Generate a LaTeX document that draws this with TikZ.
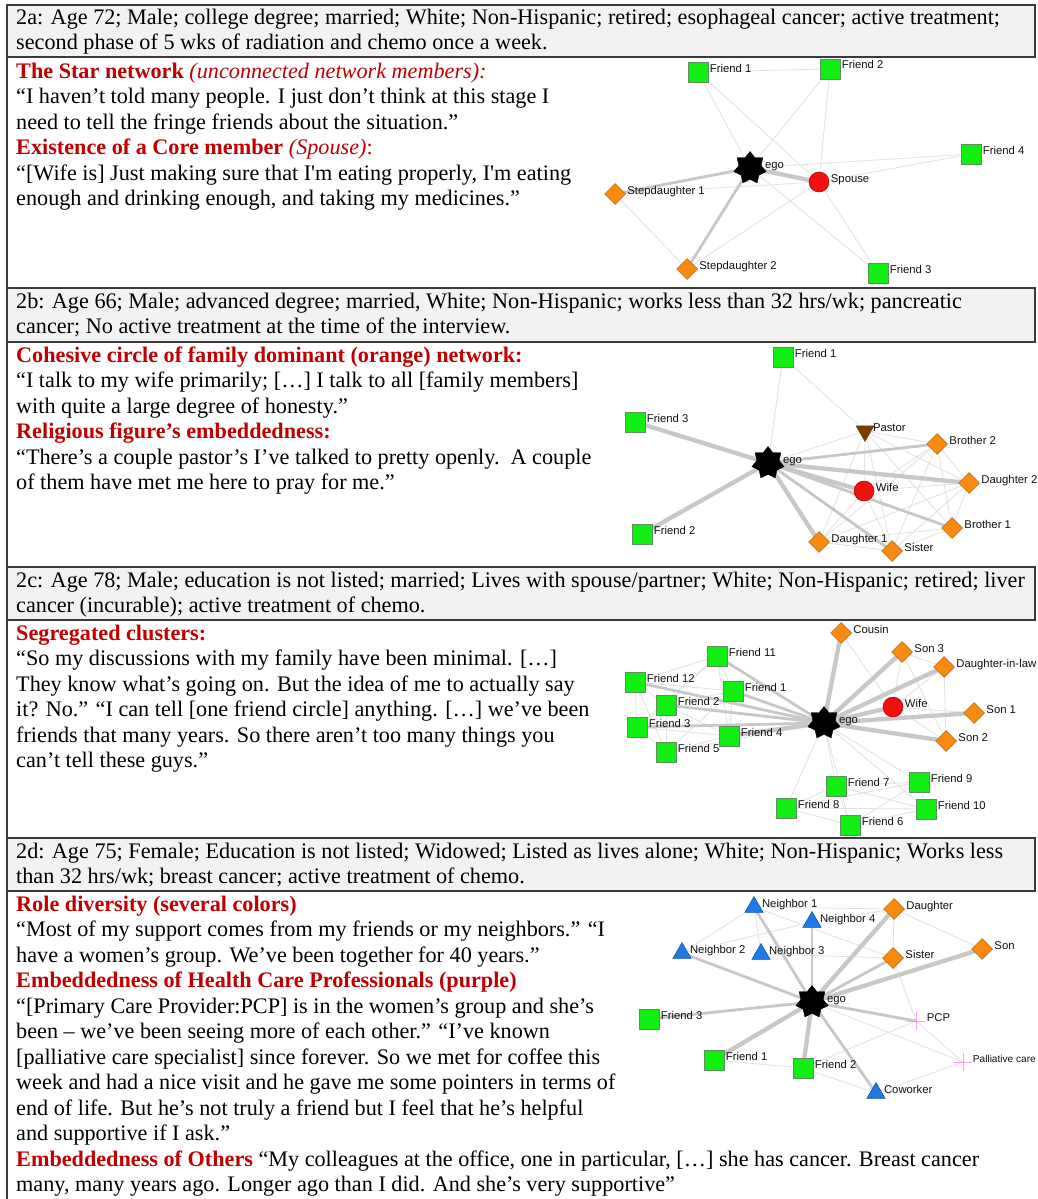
\documentclass[tikz,border=0pt]{standalone}
\usepackage{fontspec}
\setmainfont{Liberation Serif}[Ligatures=TeXOff]
\newfontfamily\labfamily{Liberation Sans}
\usetikzlibrary{shapes.geometric,backgrounds}
\pgfdeclarelayer{edgelayer}
\pgfsetlayers{background,edgelayer,main}
\definecolor{hred}{HTML}{C00000}
\definecolor{hdrgray}{HTML}{F2F2F2}
\definecolor{rulecol}{HTML}{3A3A3A}
\definecolor{grn}{HTML}{11EE11}
\definecolor{grnb}{HTML}{5E8F5E}
\definecolor{org}{HTML}{FA8A0F}
\definecolor{orgb}{HTML}{A8600E}
\definecolor{redn}{HTML}{F01010}
\definecolor{rednb}{HTML}{B00000}
\definecolor{blu}{HTML}{1E78E6}
\definecolor{blub}{HTML}{1050A0}
\definecolor{brn}{HTML}{7A3A00}
\definecolor{pnk}{HTML}{F5A0F0}
\definecolor{ethick}{HTML}{C8C8C8}
\definecolor{ethin}{HTML}{E2E2E2}
\definecolor{labcol}{HTML}{111111}
\newcommand\mainfs{\fontsize{22.2}{25.5}\selectfont}
\newcommand\labfs{\labfamily\fontsize{11.3}{13}\selectfont}
\newcommand\smlabfs{\labfamily\fontsize{10.1}{12}\selectfont}
\newcommand\redbf[1]{{\color{hred}\bfseries #1}}
\newcommand\redit[1]{{\color{hred}\itshape #1}}
\begin{document}
\begin{tikzpicture}[x=1pt,y=-1pt,label distance=1.5pt,
  hdr/.style={fill=hdrgray,draw=rulecol,line width=1.3pt},
  txt/.style={anchor=base west,inner sep=0,font=\mainfs},
  lab/.style={anchor=base west,inner sep=0,font=\labfs,text=labcol},
  L/.style={label={[lab]0:#1}},
  sq/.style={rectangle,draw=grnb,fill=grn,minimum size=20pt,inner sep=0,line width=0.5pt},
  dia/.style={diamond,draw=orgb,fill=org,minimum size=21pt,inner sep=0,line width=0.5pt},
  circ/.style={circle,draw=rednb,fill=redn,minimum size=20pt,inner sep=0,line width=0.5pt},
  egostar/.style={star,star points=7,star point ratio=1.45,fill=black,draw=black,minimum size=33pt,inner sep=0},
  tri/.style={regular polygon,regular polygon sides=3,fill=blu,draw=blub,minimum size=21pt,inner sep=0,line width=0.5pt},
  pastor/.style={regular polygon,regular polygon sides=3,shape border rotate=180,fill=brn,draw=brn,minimum size=21pt,inner sep=0},
  plusn/.style={minimum size=18pt,inner sep=0,path picture={\draw[pnk,line width=0.9pt] (path picture bounding box.north)--(path picture bounding box.south) (path picture bounding box.west)--(path picture bounding box.east);}},
  e1/.style={draw=ethin,line width=0.8pt},
  e3/.style={draw=ethick,line width=2.8pt},
  e5/.style={draw=ethick,line width=4.3pt}]
\useasboundingbox (0,0) rectangle (1037,1199);
\begin{pgfonlayer}{background}
  \fill[white] (0,0) rectangle (1037,1199);
  \draw[hdr] (7,5) rectangle (1035,57);
  \draw[hdr] (7,288) rectangle (1035,342);
  \draw[hdr] (7,567) rectangle (1035,620);
  \draw[hdr] (7,838) rectangle (1035,891);
  \draw[rulecol,line width=1.3pt] (7,5) -- (7,1199);
\end{pgfonlayer}

% ---------------- texts 2a
\node[txt] (ha1) at (16,25) {2a: Age 72; Male; college degree; married; White; Non-Hispanic; retired; esophageal cancer; active treatment;};
\node[txt] (ha2) at (16,50) {second phase of 5 wks of radiation and chemo once a week.};
\node[txt] (ta1) at (16,78) {\redbf{The Star network}\redit{ (unconnected network members):}};
\node[txt] (ta2) at (16,103.5) {“I haven’t told many people. I just don’t think at this stage I};
\node[txt] (ta3) at (16,129) {need to tell the fringe friends about the situation.”};
\node[txt] (ta4) at (16,154.5) {\redbf{Existence of a Core member}\redit{ (Spouse)}{\color{hred}:}};
\node[txt] (ta5) at (16,180) {“[Wife is] Just making sure that I'm eating properly, I'm eating};
\node[txt] (ta6) at (16,205.5) {enough and drinking enough, and taking my medicines.”};
% ---------------- texts 2b
\node[txt] (hb1) at (16,308) {2b: Age 66; Male; advanced degree; married, White; Non-Hispanic; works less than 32 hrs/wk; pancreatic};
\node[txt] (hb2) at (16,333) {cancer; No active treatment at the time of the interview.};
\node[txt] (tb1) at (16,362) {\redbf{Cohesive circle of family dominant (orange) network:}};
\node[txt] (tb2) at (16,387.5) {“I talk to my wife primarily; […] I talk to all [family members]};
\node[txt] (tb3) at (16,413) {with quite a large degree of honesty.”};
\node[txt] (tb4) at (16,438.5) {\redbf{Religious figure’s embeddedness:}};
\node[txt] (tb5) at (16,464) {“There’s a couple pastor’s I’ve talked to pretty openly.\ \ A couple};
\node[txt] (tb6) at (16,489.5) {of them have met me here to pray for me.”};
% ---------------- texts 2c
\node[txt] (hc1) at (16,587) {2c: Age 78; Male; education is not listed; married; Lives with spouse/partner; White; Non-Hispanic; retired; liver};
\node[txt] (hc2) at (16,612) {cancer (incurable); active treatment of chemo.};
\node[txt] (tc1) at (16,640) {\redbf{Segregated clusters:}};
\node[txt] (tc2) at (16,665.5) {“So my discussions with my family have been minimal. […]};
\node[txt] (tc3) at (16,691) {They know what’s going on. But the idea of me to actually say};
\node[txt] (tc4) at (16,716.5) {it? No.” “I can tell [one friend circle] anything. […] we’ve been};
\node[txt] (tc5) at (16,742) {friends that many years. So there aren’t too many things you};
\node[txt] (tc6) at (16,767.5) {can’t tell these guys.”};
% ---------------- texts 2d
\node[txt] (hd1) at (16,858) {2d: Age 75; Female; Education is not listed; Widowed; Listed as lives alone; White; Non-Hispanic; Works less};
\node[txt] (hd2) at (16,883) {than 32 hrs/wk; breast cancer; active treatment of chemo.};
\node[txt] (td1) at (16,911) {\redbf{Role diversity (several colors)}};
\node[txt] (td2) at (16,936.5) {“Most of my support comes from my friends or my neighbors.” “I};
\node[txt] (td3) at (16,962) {have a women’s group. We’ve been together for 40 years.”};
\node[txt] (td4) at (16,987.5) {\redbf{Embeddedness of Health Care Professionals (purple)}};
\node[txt] (td5) at (16,1013) {“[Primary Care Provider:PCP] is in the women’s group and she’s};
\node[txt] (td6) at (16,1038.5) {been – we’ve been seeing more of each other.” “I’ve known};
\node[txt] (td7) at (16,1064) {[palliative care specialist] since forever. So we met for coffee this};
\node[txt] (td8) at (16,1089.5) {week and had a nice visit and he gave me some pointers in terms of};
\node[txt] (td9) at (16,1115) {end of life. But he’s not truly a friend but I feel that he’s helpful};
\node[txt] (td10) at (16,1140.5) {and supportive if I ask.”};
\node[txt] (td11) at (16,1166) {\redbf{Embeddedness of Others} “My colleagues at the office, one in particular, […] she has cancer. Breast cancer};
\node[txt] (td12) at (16,1191.5) {many, many years ago. Longer ago than I did. And she’s very supportive”};

% ================= network 2a
\node[egostar,L=ego] (a-ego) at (750,168) {};
\node[circ,L=Spouse] (a-sp) at (819,182) {};
\node[sq,L=Friend 1] (a-f1) at (698,72) {};
\node[sq,L=Friend 2] (a-f2) at (830,69) {};
\node[sq,L=Friend 4] (a-f4) at (971,154) {};
\node[sq,L=Friend 3] (a-f3) at (878,273) {};
\node[dia,L=Stepdaughter 1] (a-s1) at (615,194) {};
\node[dia,L=Stepdaughter 2] (a-s2) at (687,269) {};
\begin{pgfonlayer}{edgelayer}
\foreach \p/\q in {a-f1/a-f2,a-f1/a-ego,a-f1/a-sp,a-f2/a-ego,a-f2/a-sp,a-f4/a-ego,a-f4/a-sp,a-s1/a-sp,a-s1/a-s2,a-s2/a-sp,a-ego/a-f3,a-sp/a-f3}
  \draw[e1] (\p.center) -- (\q.center);
\draw[e5] (a-ego.center) -- (a-sp.center);
\draw[e3] (a-ego.center) -- (a-s1.center);
\draw[e3] (a-ego.center) -- (a-s2.center);
\end{pgfonlayer}

% ================= network 2b
\node[egostar,L=ego] (b-ego) at (768,463) {};
\node[sq,L=Friend 1] (b-f1) at (783,357) {};
\node[sq,L=Friend 3] (b-f3) at (635,422) {};
\node[sq,L=Friend 2] (b-f2) at (642,534) {};
\node[pastor,L=Pastor] (b-pas) at (865,431) {};
\node[dia,L=Brother 2] (b-b2) at (937,444) {};
\node[dia,L=Daughter 2] (b-d2) at (969,483) {};
\node[circ,L=Wife] (b-w) at (864,491) {};
\node[dia,L=Brother 1] (b-b1) at (952,528) {};
\node[dia,L=Daughter 1] (b-d1) at (819,542) {};
\node[dia,L=Sister] (b-sis) at (892,551) {};
\begin{pgfonlayer}{edgelayer}
\foreach \p/\q in {b-ego/b-f1,b-f1/b-pas,b-ego/b-pas,b-pas/b-b2,b-pas/b-d2,b-pas/b-w,b-pas/b-d1,b-pas/b-sis,b-pas/b-b1,b-w/b-b2,b-w/b-d2,b-w/b-d1,b-w/b-sis,b-b2/b-d2,b-b2/b-b1,b-b2/b-sis,b-b2/b-d1,b-d2/b-b1,b-d2/b-d1,b-d2/b-sis,b-b1/b-sis,b-b1/b-d1,b-d1/b-sis}
  \draw[e1] (\p.center) -- (\q.center);
\foreach \q in {b-f3,b-f2,b-d2,b-w,b-d1}
  \draw[e5] (b-ego.center) -- (\q.center);
\foreach \q in {b-b2,b-sis,b-b1}
  \draw[e3] (b-ego.center) -- (\q.center);
\end{pgfonlayer}

% ================= network 2c
\node[egostar,L=ego] (c-ego) at (824,723) {};
\node[dia,L=Cousin] (c-cou) at (841,633) {};
\node[dia,L=Son 3] (c-s3) at (902,652) {};
\node[dia,L=Daughter-in-law] (c-dil) at (944,667) {};
\node[circ,L=Wife] (c-w) at (893,707) {};
\node[dia,L=Son 1] (c-s1) at (974,713) {};
\node[dia,L=Son 2] (c-s2) at (946,741) {};
\node[sq,L=Friend 11] (c-f11) at (717,656) {};
\node[sq,L=Friend 12] (c-f12) at (635,682) {};
\node[sq,L=Friend 1] (c-f1) at (733,691) {};
\node[sq,L=Friend 2] (c-f2) at (666,705) {};
\node[sq,L=Friend 3] (c-f3) at (637,727) {};
\node[sq,L=Friend 4] (c-f4) at (729,736) {};
\node[sq,L=Friend 5] (c-f5) at (666,752) {};
\node[sq,L=Friend 7] (c-f7) at (836,786) {};
\node[sq,L=Friend 9] (c-f9) at (919,782) {};
\node[sq,L=Friend 8] (c-f8) at (786,808) {};
\node[sq,L=Friend 10] (c-f10) at (926,809) {};
\node[sq,L=Friend 6] (c-f6) at (850,825) {};
\begin{pgfonlayer}{edgelayer}
\foreach \p/\q in {c-f11/c-f12,c-f11/c-f2,c-f11/c-f1,c-f11/c-f4,c-f11/c-f3,c-f12/c-f2,c-f12/c-f3,c-f12/c-f5,c-f12/c-f1,c-f2/c-f3,c-f2/c-f5,c-f2/c-f4,c-f2/c-f1,c-f3/c-f5,c-f3/c-f4,c-f5/c-f4,c-f1/c-f4,c-f1/c-f5,c-cou/c-w,c-s3/c-w,c-s3/c-s2,c-dil/c-s2,c-dil/c-w,c-w/c-s1,c-w/c-s2,c-s3/c-dil,c-ego/c-f7,c-ego/c-f8,c-ego/c-f6,c-ego/c-f9,c-ego/c-f10,c-f7/c-f9,c-f7/c-f8,c-f7/c-f6,c-f7/c-f10,c-f8/c-f9,c-f8/c-f6,c-f8/c-f10,c-f6/c-f10,c-f6/c-f9,c-f9/c-f10,c-ego/c-f5}
  \draw[e1] (\p.center) -- (\q.center);
\foreach \q in {c-cou,c-s3,c-dil,c-w,c-s1,c-s2,c-f4}
  \draw[e5] (c-ego.center) -- (\q.center);
\foreach \q in {c-f11,c-f12,c-f1,c-f2,c-f3}
  \draw[e3] (c-ego.center) -- (\q.center);
\end{pgfonlayer}

% ================= network 2d
\node[egostar,L=ego] (d-ego) at (812,1002) {};
\node[tri,L=Neighbor 1] (d-n1) at (754,907) {};
\node[tri,L=Neighbor 4] (d-n4) at (812,922) {};
\node[dia,L=Daughter] (d-dau) at (894,909) {};
\node[tri,L=Neighbor 2] (d-n2) at (682,953) {};
\node[tri,L=Neighbor 3] (d-n3) at (761,954) {};
\node[dia,L=Sister] (d-sis) at (893,958) {};
\node[dia,L=Son] (d-son) at (982,949) {};
\node[sq,L=Friend 3] (d-f3) at (649,1019) {};
\node[plusn,L=PCP] (d-pcp) at (916,1021) {};
\node[sq,L=Friend 1] (d-f1) at (714,1060) {};
\node[sq,L=Friend 2] (d-f2) at (803,1068) {};
\node[plusn,label={[lab,font=\smlabfs,xshift=-1pt]0:Palliative care}] (d-pal) at (963,1062) {};
\node[tri,L=Coworker] (d-cow) at (876,1093) {};
\begin{pgfonlayer}{edgelayer}
\foreach \p/\q in {d-ego/d-pal,d-n1/d-n2,d-n1/d-n3,d-n1/d-dau,d-n1/d-sis,d-n4/d-n2,d-n4/d-dau,d-n3/d-sis,d-dau/d-sis,d-dau/d-son,d-sis/d-pcp,d-pcp/d-pal,d-f1/d-f2,d-f2/d-pcp,d-f2/d-cow,d-cow/d-pal}
  \draw[e1] (\p.center) -- (\q.center);
\foreach \q in {d-son,d-dau,d-f1,d-f2}
  \draw[e5] (d-ego.center) -- (\q.center);
\foreach \q in {d-n1,d-n4,d-sis,d-n2,d-f3,d-cow,d-pcp}
  \draw[e3] (d-ego.center) -- (\q.center);
\end{pgfonlayer}
\end{tikzpicture}
\end{document}
